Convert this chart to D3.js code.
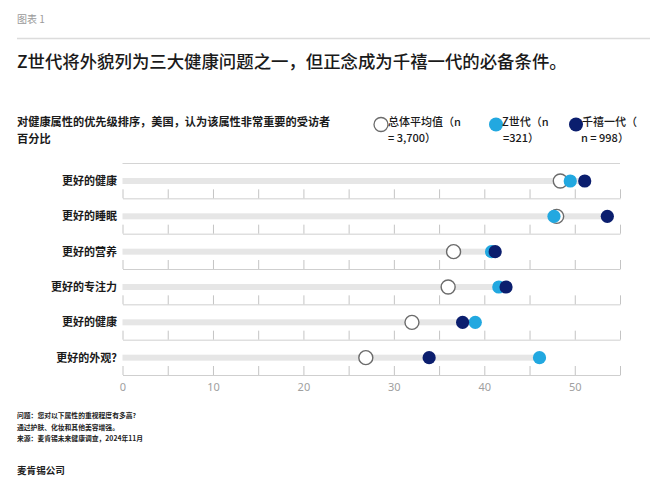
<!DOCTYPE html>
<html>
<head>
<meta charset="utf-8">
<script src="https://cdn.jsdelivr.net/npm/d3@7"></script>
<style>
  html, body { margin: 0; padding: 0; background: #fff; }
  svg { display: block; font-family: "Noto Sans CJK SC", "Noto Sans", sans-serif; }
</style>
</head>
<body>
<svg id="chart" width="665" height="481"></svg>
<script>
const categories = ["更好的健康", "更好的睡眠", "更好的营养", "更好的专注力", "更好的健康", "更好的外观?"];
const overall    = [48.4, 48.0, 36.6, 36.0, 32.0, 26.9];
const genZ       = [49.5, 47.7, 40.8, 41.6, 39.0, 46.1];
const millennial = [51.1, 53.6, 41.2, 42.4, 37.6, 33.9];
const axisTicks  = [0, 10, 20, 30, 40, 50];
const minorTicks = [0, 5, 10, 15, 20, 25, 30, 35, 40, 45, 50, 55];

const svg = d3.select("#chart");
const C_GENZ = "#22a8e0", C_MIL = "#0b1e6e", C_RING = "#6b6b6b";

// header
svg.append("text").attr("x", 17).attr("y", 23).attr("font-size", 10).attr("fill", "#9a9a9a").text("图表 1");
svg.append("line").attr("x1", 17).attr("x2", 650).attr("y1", 38.5).attr("y2", 38.5)
  .attr("stroke", "#dcdcdc").attr("stroke-width", 1.5);
svg.append("text").attr("x", 17).attr("y", 68).attr("font-size", 17.4).attr("font-weight", 500)
  .attr("fill", "#1a1a1a").text("Z世代将外貌列为三大健康问题之一，但正念成为千禧一代的必备条件。");

// subtitle
const sub = svg.append("text").attr("font-size", 11.2).attr("font-weight", 700).attr("fill", "#1a1a1a");
sub.append("tspan").attr("x", 17).attr("y", 126).text("对健康属性的优先级排序，美国，认为该属性非常重要的受访者");
sub.append("tspan").attr("x", 17).attr("y", 142.5).text("百分比");

// legend
const legend = [
  {lines: ["总体平均值（n", "= 3,700）"], cx: 381, tx: 388, tx2: 388, fill: "#fff", stroke: C_RING},
  {lines: ["Z世代（n", "=321）"], cx: 496, tx: 502, tx2: 503, fill: C_GENZ, stroke: "none"},
  {lines: ["千禧一代（", "n = 998）"], cx: 576, tx: 582, tx2: 581, fill: C_MIL, stroke: "none"}
];
legend.forEach(l => {
  svg.append("circle").attr("cx", l.cx).attr("cy", 124.5).attr("r", 7)
    .attr("fill", l.fill).attr("stroke", l.stroke).attr("stroke-width", 1.3);
  const t = svg.append("text").attr("font-size", 11).attr("font-weight", 500).attr("fill", "#1a1a1a");
  t.append("tspan").attr("x", l.tx).attr("y", 125.5).text(l.lines[0]);
  t.append("tspan").attr("x", l.tx2).attr("y", 142).text(l.lines[1]);
});

// scales
const x = d3.scaleLinear().domain([0, 55]).range([122.5, 620]);
const y = d3.scaleBand().domain(d3.range(categories.length)).range([163, 375]);

// top border
svg.append("line").attr("x1", x(0)).attr("x2", x(55)).attr("y1", 163.5).attr("y2", 163.5)
  .attr("stroke", "#d4d4d4");

// per-row axes
categories.forEach((c, i) => {
  const g = svg.append("g").attr("transform", `translate(0,${y(i) + y.bandwidth()})`)
    .call(d3.axisTop(x).tickValues(minorTicks).tickSize(9).tickSizeOuter(0).tickFormat(""));
  g.select(".domain").attr("stroke", "#cfcfcf");
  g.selectAll(".tick line").attr("stroke", "#c4c4c4");
});

const cy = i => y(i) + 18;

// bars
svg.append("g").selectAll("rect").data(categories).join("rect")
  .attr("x", x(0)).attr("y", (d, i) => cy(i) - 3)
  .attr("width", (d, i) => x(Math.max(overall[i], genZ[i], millennial[i])) - x(0))
  .attr("height", 6).attr("fill", "#e6e6e6");

// row labels
svg.append("g").selectAll("text").data(categories).join("text")
  .attr("x", 117).attr("y", (d, i) => cy(i) + 4)
  .attr("text-anchor", "end").attr("font-size", 11).attr("font-weight", 700).attr("fill", "#1a1a1a")
  .text(d => d);

// dots
svg.append("g").selectAll("circle").data(overall).join("circle")
  .attr("cx", d => x(d)).attr("cy", (d, i) => cy(i)).attr("r", 7)
  .attr("fill", "#fff").attr("stroke", C_RING).attr("stroke-width", 1.4);
svg.append("g").selectAll("circle").data(genZ).join("circle")
  .attr("cx", d => x(d)).attr("cy", (d, i) => cy(i)).attr("r", 6.6).attr("fill", C_GENZ);
svg.append("g").selectAll("circle").data(millennial).join("circle")
  .attr("cx", d => x(d)).attr("cy", (d, i) => cy(i)).attr("r", 6.6).attr("fill", C_MIL);

// bottom axis labels
const ax = svg.append("g").attr("transform", "translate(0,375)")
  .call(d3.axisBottom(x).tickValues(axisTicks).tickSize(0).tickPadding(8));
ax.select(".domain").remove();
ax.selectAll("text").attr("font-size", 11).attr("fill", "#a0a0a0")
  .attr("font-family", "'Noto Sans', sans-serif");

// footnotes
const fn = svg.append("text").attr("font-size", 6.8).attr("font-weight", 700).attr("fill", "#222");
fn.append("tspan").attr("x", 17).attr("y", 418).text("问题：您对以下属性的重视程度有多高?");
fn.append("tspan").attr("x", 17).attr("y", 430).text("通过护肤、化妆和其他美容增强。");
fn.append("tspan").attr("x", 17).attr("y", 441).text("来源：麦肯锡未来健康调查，2024年11月");
svg.append("text").attr("x", 17).attr("y", 474).attr("font-size", 9.6).attr("font-weight", 700)
  .attr("fill", "#222").text("麦肯锡公司");
</script>
</body>
</html>
